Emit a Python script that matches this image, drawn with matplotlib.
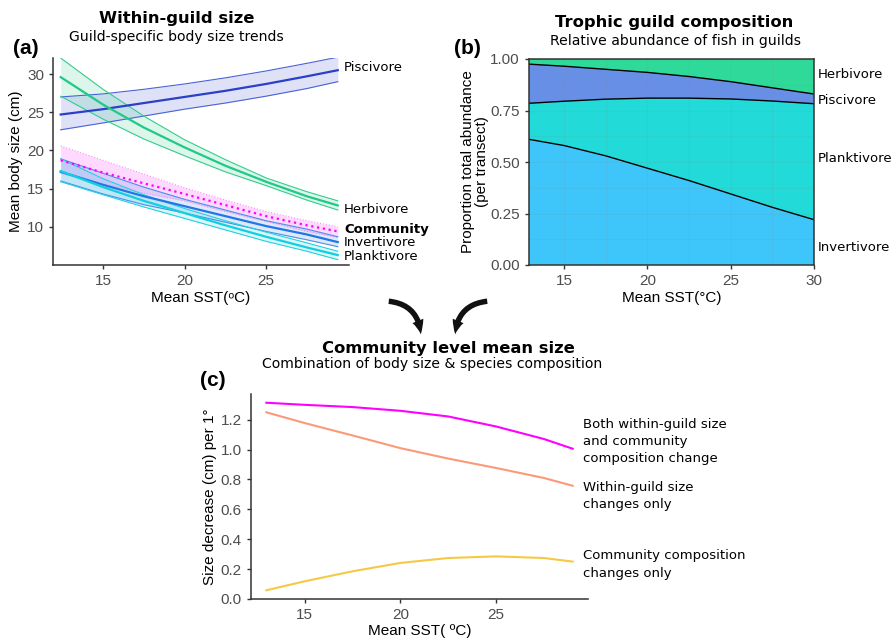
import matplotlib
matplotlib.use("Agg")
import matplotlib.pyplot as plt
from matplotlib.patches import FancyArrowPatch
import numpy as np

plt.rcParams['font.family'] = ['DejaVu Sans']

# ---------------- Panel (a) data ----------------
sst_a = [12.4, 15, 17.5, 20, 22.5, 25, 27.5, 29.4]
pisc_mean = [24.7, 25.4, 26.2, 27.0, 27.8, 28.7, 29.7, 30.5]
pisc_hi = [27.0, 27.4, 28.0, 28.7, 29.5, 30.4, 31.4, 32.2]
pisc_lo = [22.7, 23.6, 24.5, 25.4, 26.2, 27.1, 28.1, 29.0]
herb_mean = [29.6, 26.0, 23.0, 20.4, 18.0, 15.9, 14.0, 12.8]
herb_hi = [32.1, 28.0, 24.5, 21.4, 18.8, 16.4, 14.6, 13.4]
herb_lo = [27.1, 24.1, 21.5, 19.3, 17.2, 15.4, 13.5, 12.2]
comm_mean = [18.7, 17.1, 15.7, 14.3, 12.85, 11.4, 10.2, 9.4]
comm_hi = [20.6, 18.7, 16.9, 15.1, 13.5, 12.0, 10.8, 10.0]
comm_lo = [17.0, 15.6, 14.4, 13.4, 12.0, 10.7, 9.4, 8.6]
inv_mean = [17.2, 15.5, 14.0, 12.7, 11.4, 10.1, 9.0, 8.0]
inv_hi = [18.9, 17.0, 15.2, 13.6, 12.2, 10.8, 9.7, 8.7]
inv_lo = [16.0, 14.3, 12.9, 11.8, 10.6, 9.4, 8.3, 7.4]
plank_mean = [17.3, 15.2, 13.4, 11.8, 10.2, 8.7, 7.3, 6.3]
plank_hi = [18.9, 16.3, 14.2, 12.4, 10.8, 9.3, 7.9, 6.8]
plank_lo = [15.9, 14.2, 12.6, 11.1, 9.6, 8.1, 6.8, 5.7]

# ---------------- Panel (b) data ----------------
sst_b = [12.9, 15, 17.5, 20, 22.5, 25, 27.5, 30]
prop_inv = [0.61, 0.58, 0.53, 0.47, 0.41, 0.345, 0.28, 0.22]
prop_plank = [0.175, 0.215, 0.275, 0.34, 0.40, 0.461, 0.516, 0.563]
prop_pisc = [0.19, 0.17, 0.145, 0.125, 0.105, 0.084, 0.064, 0.047]
prop_herb = [0.025, 0.035, 0.05, 0.065, 0.085, 0.11, 0.14, 0.17]

# ---------------- Panel (c) data ----------------
sst_c = [13, 15, 17.5, 20, 22.5, 25, 27.5, 29]
both_change = [1.314, 1.30, 1.285, 1.26, 1.222, 1.155, 1.071, 1.006]
within_only = [1.25, 1.178, 1.095, 1.01, 0.94, 0.877, 0.81, 0.758]
comp_only = [0.058, 0.118, 0.185, 0.241, 0.274, 0.285, 0.274, 0.25]

W, H = 891, 640
fig = plt.figure(figsize=(W / 100, H / 100), dpi=100)

AX_FONT = 'Liberation Sans'

def ax_rect(l, r, t, b):
    return [l / W, 1 - b / H, (r - l) / W, (b - t) / H]

tick_col = '#4d4d4d'
spine_col = '#333333'

def set_tick_font(ax):
    for lab in ax.get_xticklabels() + ax.get_yticklabels():
        lab.set_family(AX_FONT)

def style_classic(ax):
    for s in ['top', 'right']:
        ax.spines[s].set_visible(False)
    for s in ['left', 'bottom']:
        ax.spines[s].set_color(spine_col)
        ax.spines[s].set_linewidth(1.1)
    ax.tick_params(colors=spine_col, labelcolor=tick_col, labelsize=11, length=3, width=1)

# ---------------- Panel (a) ----------------
axa = fig.add_axes(ax_rect(53, 349, 58, 265))
style_classic(axa)
series = [
    (pisc_mean, pisc_hi, pisc_lo, '#2c3fc7', '#4a62d6', '-'),
    (herb_mean, herb_hi, herb_lo, '#1fc986', '#33cc8c', '-'),
    (comm_mean, comm_hi, comm_lo, '#ff00ff', '#f090f0', ':'),
    (inv_mean, inv_hi, inv_lo, '#2277e6', '#4a8fe8', '-'),
    (plank_mean, plank_hi, plank_lo, '#12cfe0', '#22d0e0', '-'),
]
for m, hi, lo, c, ec, ls in series:
    axa.fill_between(sst_a, lo, hi, color=c, alpha=0.15, linewidth=0)
    axa.plot(sst_a, hi, color=ec, lw=0.8, ls=ls)
    axa.plot(sst_a, lo, color=ec, lw=0.8, ls=ls)
for m, hi, lo, c, ec, ls in series:
    axa.plot(sst_a, m, color=c, lw=1.6, ls=ls)
axa.set_xlim(11.93, 30.09)
axa.set_ylim(5.0, 32.1)
axa.set_xticks([15, 20, 25])
axa.set_yticks([10, 15, 20, 25, 30])
set_tick_font(axa)
axa.set_xlabel('Mean SST(ᵒC)', fontsize=11, labelpad=2, family=[AX_FONT, 'DejaVu Sans'])
axa.set_ylabel('Mean body size (cm)', fontsize=11, labelpad=3, family=AX_FONT)
lab_a = [('Piscivore', 30.8, 'normal'), ('Herbivore', 12.3, 'normal'),
         ('Community', 9.7, 'bold'), ('Invertivore', 7.9, 'normal'),
         ('Planktivore', 6.05, 'normal')]
for t, y, w in lab_a:
    axa.text(0.983, y, t, transform=axa.get_yaxis_transform(), fontsize=9.5,
             fontweight=w, va='center', ha='left', clip_on=False)
fig.text(176.5 / W, 1 - 18 / H, 'Within-guild size', ha='center', va='center',
         fontsize=11.8, fontweight='bold')
fig.text(176.5 / W, 1 - 37 / H, 'Guild-specific body size trends', ha='center', va='center',
         fontsize=10.1)
fig.text(26 / W, 1 - 48 / H, '(a)', ha='center', va='center', fontsize=15,
         fontweight='bold', family=AX_FONT)

# ---------------- Panel (b) ----------------
axb = fig.add_axes(ax_rect(529, 814, 59, 265))
axb.stackplot(sst_b, prop_inv, prop_plank, prop_pisc, prop_herb,
              colors=['#3ec6fb', '#22dad8', '#688fe6', '#2fd99a'], linewidth=0)
cum1 = np.array(prop_inv)
cum2 = cum1 + np.array(prop_plank)
cum3 = cum2 + np.array(prop_pisc)
for cc in (cum1, cum2, cum3):
    axb.plot(sst_b, cc, color='black', lw=1.0)
axb.set_xlim(12.9, 30)
axb.set_ylim(0, 1)
axb.set_xticks([15, 20, 25, 30])
axb.set_yticks([0, 0.25, 0.5, 0.75, 1.0])
axb.set_yticklabels(['0.00', '0.25', '0.50', '0.75', '1.00'])
axb.set_xticks([17.5, 22.5, 27.5], minor=True)
axb.set_yticks([0.125, 0.375, 0.625, 0.875], minor=True)
axb.grid(True, which='both', color='#888888', alpha=0.12, lw=0.8)
axb.tick_params(which='minor', length=0)
for s in axb.spines.values():
    s.set_color(spine_col)
    s.set_linewidth(1.1)
axb.tick_params(colors=spine_col, labelcolor=tick_col, labelsize=11, length=3, width=1)
set_tick_font(axb)
axb.set_xlabel('Mean SST(°C)', fontsize=11, labelpad=2, family=AX_FONT)
axb.set_ylabel('Proportion total abundance\n(per transect)', fontsize=11, labelpad=1,
               linespacing=1.0, family=AX_FONT)
lab_b = [('Herbivore', 0.927), ('Piscivore', 0.80), ('Planktivore', 0.515),
         ('Invertivore', 0.087)]
for t, y in lab_b:
    axb.text(1.014, y, t, transform=axb.transAxes, fontsize=9.5, va='center',
             ha='left', clip_on=False)
fig.text(674.5 / W, 1 - 22 / H, 'Trophic guild composition', ha='center', va='center',
         fontsize=11.8, fontweight='bold')
fig.text(675 / W, 1 - 41 / H, 'Relative abundance of fish in guilds', ha='center',
         va='center', fontsize=10.1)
fig.text(467 / W, 1 - 48 / H, '(b)', ha='center', va='center', fontsize=15,
         fontweight='bold', family=AX_FONT)

# ---------------- Panel (c) ----------------
axc = fig.add_axes(ax_rect(251, 588, 394, 599.3))
style_classic(axc)
axc.plot(sst_c, both_change, color='#ff00ff', lw=1.5)
axc.plot(sst_c, within_only, color='#fa9a78', lw=1.5)
axc.plot(sst_c, comp_only, color='#f5c944', lw=1.5)
axc.set_xlim(12.2, 29.8)
axc.set_ylim(-0.0025, 1.3725)
axc.set_xticks([15, 20, 25])
axc.set_yticks([0, 0.2, 0.4, 0.6, 0.8, 1.0, 1.2])
axc.set_yticklabels(['0.0', '0.2', '0.4', '0.6', '0.8', '1.0', '1.2'])
set_tick_font(axc)
axc.set_xlabel('Mean SST( ºC)', fontsize=11, labelpad=1, family=AX_FONT)
axc.set_ylabel('Size decrease (cm) per 1°', fontsize=11, labelpad=3, family=AX_FONT)
lab_c = [('Both within-guild size\nand community\ncomposition change', 1.053),
         ('Within-guild size\nchanges only', 0.69),
         ('Community composition\nchanges only', 0.23)]
for t, y in lab_c:
    axc.text(0.985, y, t, transform=axc.get_yaxis_transform(), fontsize=9.5,
             va='center', ha='left', linespacing=1.42, clip_on=False)
fig.text(448 / W, 1 - 348 / H, 'Community level mean size', ha='center', va='center',
         fontsize=11.8, fontweight='bold')
fig.text(432.5 / W, 1 - 364 / H, 'Combination of body size & species composition',
         ha='center', va='center', fontsize=10.1)
fig.text(213 / W, 1 - 381 / H, '(c)', ha='center', va='center', fontsize=15,
         fontweight='bold', family=AX_FONT)

# ---------------- Curved arrows ----------------
def px(x, y):
    return (x / W, 1 - y / H)

for (x0, y0, x1, y1, rad) in [(386, 301, 421, 337, -0.45), (490, 301, 455, 337, 0.45)]:
    arr = FancyArrowPatch(px(x0, y0), px(x1, y1), transform=fig.transFigure,
                          connectionstyle=f'arc3,rad={rad}',
                          arrowstyle='simple,head_width=0.6,head_length=0.7,tail_width=0.28',
                          mutation_scale=14, color='#111111', lw=0)
    fig.patches.append(arr)

fig.savefig('out.png', dpi=100)
